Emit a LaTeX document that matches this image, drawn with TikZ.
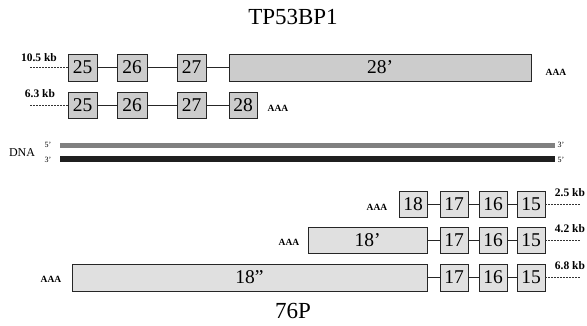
\documentclass[tikz,border=0pt]{standalone}
\usepackage{fontspec}
\setmainfont{Liberation Serif}
\begin{document}
\begin{tikzpicture}[x=1pt,y=-1pt,
  exonA/.style={draw=black!85,line width=0.8pt,fill=black!20,inner sep=0pt,outer sep=0pt,minimum height=27pt,font=\fontsize{19.5}{19.5}\selectfont},
  exonB/.style={draw=black!85,line width=0.8pt,fill=black!12,inner sep=0pt,outer sep=0pt,minimum height=26pt,font=\fontsize{19.5}{19.5}\selectfont},
  link/.style={line width=0.8pt,black!85},
  tail/.style={line width=0.7pt,dashed,dash pattern=on 2pt off 1pt,black!80},
  kb/.style={font=\bfseries\fontsize{11.5}{11.5}\selectfont,inner sep=0pt},
  polya/.style={font=\bfseries\fontsize{9.5}{9.5}\selectfont,inner sep=0pt},
  prime/.style={font=\fontsize{8}{8}\selectfont,inner sep=0pt}]
\useasboundingbox (0,0) rectangle (587,325);
\fill[white] (0,0) rectangle (587,325);
% titles
\node[font=\fontsize{23}{23}\selectfont] (t1) at (293,17) {TP53BP1};
\node[font=\fontsize{23}{23}\selectfont] (t2) at (293,311) {76P};
% row A: 10.5 kb
\node[exonA,minimum width=29pt] (a25) at (82.5,67.5) {25};
\node[exonA,minimum width=30pt] (a26) at (132,67.5) {26};
\node[exonA,minimum width=29pt] (a27) at (191.5,67.5) {27};
\node[exonA,minimum width=302pt] (a28) at (380,67.5) {28'};
\node[kb] (ka) at (39,58) {10.5 kb};
\coordinate (sa) at (30,67.5);
\node[polya] (pa) at (556,72) {AAA};
\draw[tail] (sa) -- (a25);
\draw[link] (a25) -- (a26);
\draw[link] (a26) -- (a27);
\draw[link] (a27) -- (a28);
% row B: 6.3 kb
\node[exonA,minimum width=29pt,minimum height=26pt] (b25) at (82.5,105) {25};
\node[exonA,minimum width=30pt,minimum height=26pt] (b26) at (132,105) {26};
\node[exonA,minimum width=29pt,minimum height=26pt] (b27) at (191.5,105) {27};
\node[exonA,minimum width=28pt,minimum height=26pt] (b28) at (243,105) {28};
\node[kb] (kb1) at (40,94) {6.3 kb};
\coordinate (sb) at (30,105);
\node[polya] (pb) at (278,108) {AAA};
\draw[tail] (sb) -- (b25);
\draw[link] (b25) -- (b26);
\draw[link] (b26) -- (b27);
\draw[link] (b27) -- (b28);
% DNA
\node[font=\fontsize{12}{12}\selectfont,inner sep=0pt] (dna) at (22,153) {DNA};
\node[prime] (p1) at (48,145) {5'};
\node[prime] (p2) at (48,160) {3'};
\node[prime] (p3) at (561,145) {3'};
\node[prime] (p4) at (561,160) {5'};
\coordinate (s1a) at (60,145.5);
\coordinate (s1b) at (555,145.5);
\coordinate (s2a) at (60,159);
\coordinate (s2b) at (555,159);
\draw[line width=5pt,black!50] (s1a) -- (s1b);
\draw[line width=6pt,black!88] (s2a) -- (s2b);
% row C: 2.5 kb
\node[exonB,minimum width=28pt] (c18) at (413,204) {18};
\node[exonB,minimum width=28pt] (c17) at (454,204) {17};
\node[exonB,minimum width=28pt] (c16) at (493,204) {16};
\node[exonB,minimum width=28pt] (c15) at (531,204) {15};
\coordinate (ec) at (580,204);
\node[kb] (kc) at (570,193) {2.5 kb};
\node[polya] (pc) at (377,207) {AAA};
\draw[link] (c18) -- (c17);
\draw[link] (c17) -- (c16);
\draw[link] (c16) -- (c15);
\draw[tail] (c15) -- (ec);
% row D: 4.2 kb
\node[exonB,minimum width=119pt] (d18) at (367.5,240) {18'};
\node[exonB,minimum width=28pt] (d17) at (454,240) {17};
\node[exonB,minimum width=28pt] (d16) at (493,240) {16};
\node[exonB,minimum width=28pt] (d15) at (531,240) {15};
\coordinate (ed) at (580,240);
\node[kb] (kd) at (570,229) {4.2 kb};
\node[polya] (pd) at (289,242) {AAA};
\draw[link] (d18) -- (d17);
\draw[link] (d17) -- (d16);
\draw[link] (d16) -- (d15);
\draw[tail] (d15) -- (ed);
% row E: 6.8 kb
\node[exonB,minimum width=355pt,minimum height=27pt] (e18) at (249.5,277.5) {18''};
\node[exonB,minimum width=28pt,minimum height=27pt] (e17) at (454,277.5) {17};
\node[exonB,minimum width=28pt,minimum height=27pt] (e16) at (493,277.5) {16};
\node[exonB,minimum width=28pt,minimum height=27pt] (e15) at (531,277.5) {15};
\coordinate (ee) at (580,277.5);
\node[kb] (ke) at (570,266) {6.8 kb};
\node[polya] (pe) at (51,279) {AAA};
\draw[link] (e18) -- (e17);
\draw[link] (e17) -- (e16);
\draw[link] (e16) -- (e15);
\draw[tail] (e15) -- (ee);
\end{tikzpicture}
\end{document}
